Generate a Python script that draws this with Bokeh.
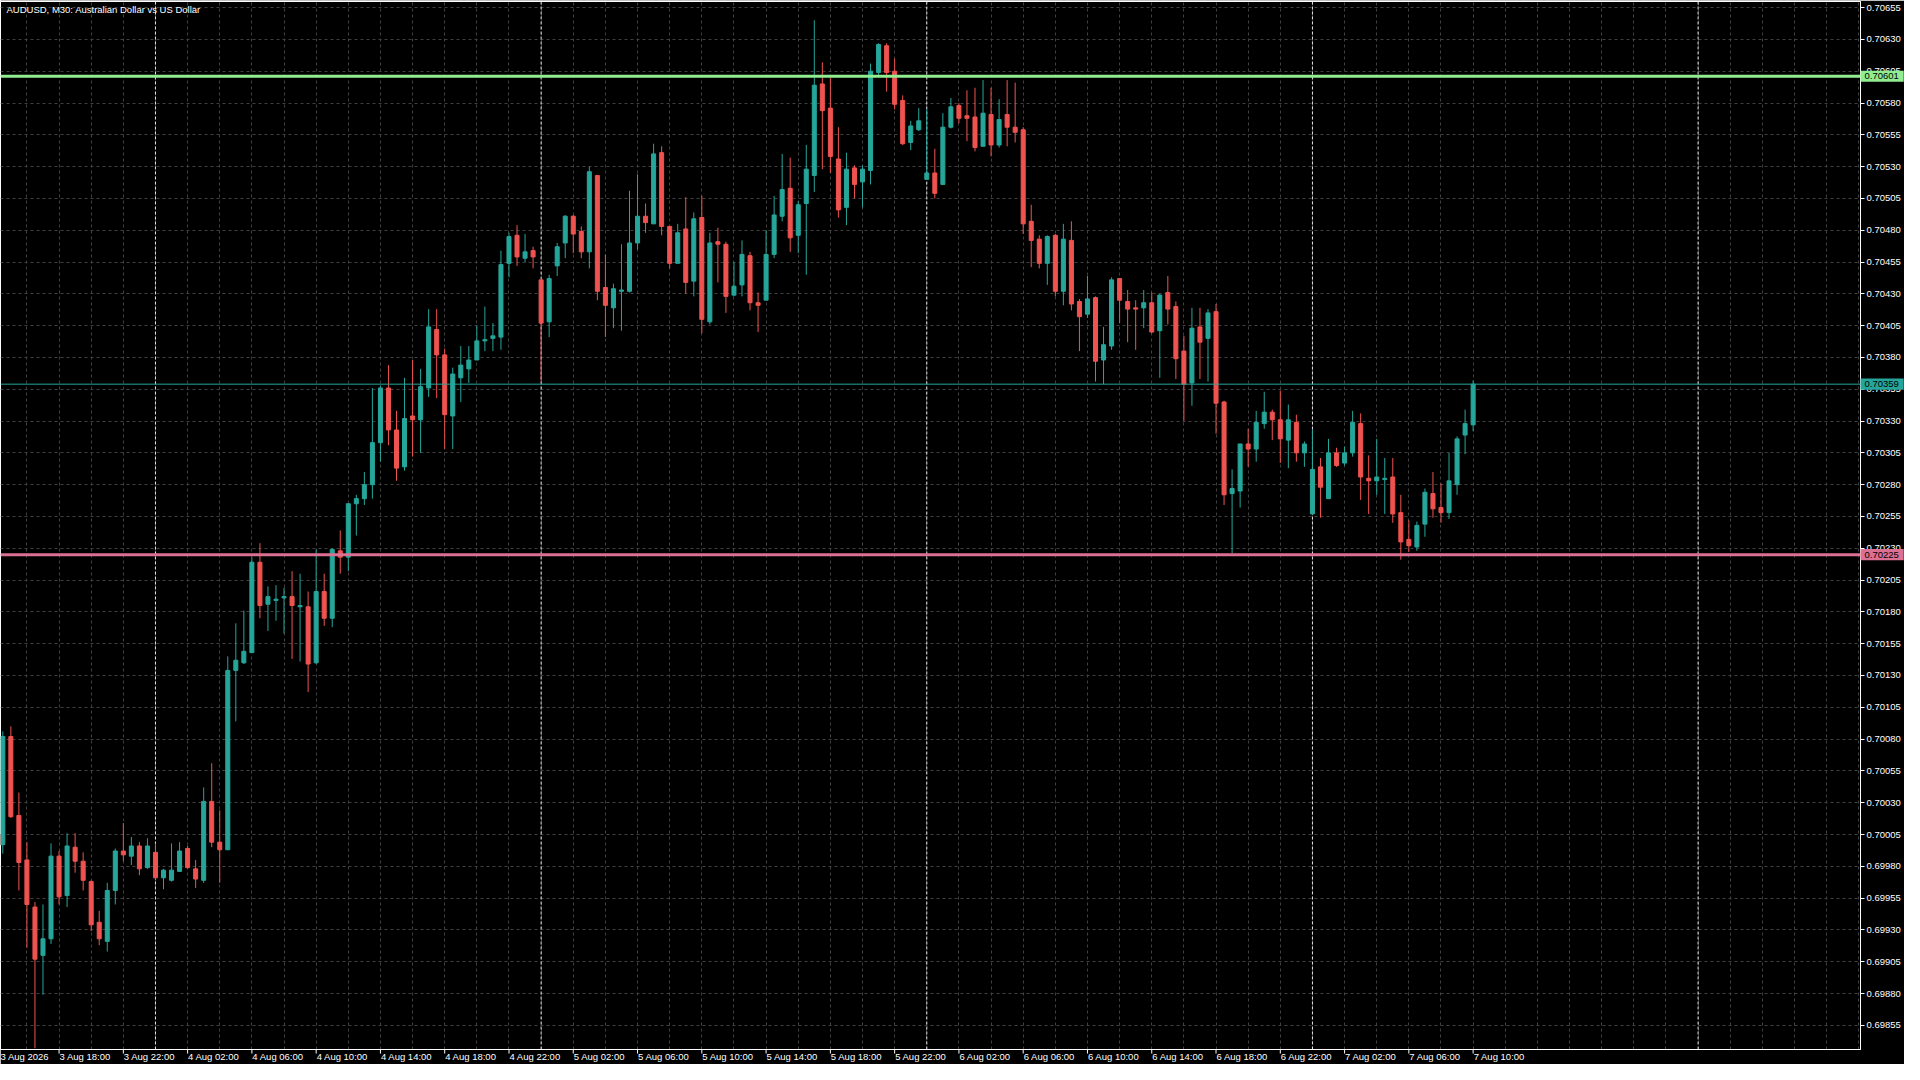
import numpy as np
from bokeh.plotting import figure
from bokeh.models import Range1d, FixedTicker, Span, Label, PrintfTickFormatter, ColumnDataSource
from bokeh.core.properties import value
from bokeh.embed import file_html
from bokeh.resources import INLINE

# ---------------- data (prices in points, 1 point = 0.00001) ----------------
POINT = 1e-5
open_pts = [70005, 69997, 70082, 70020, 69985, 69948, 69910, 69923, 69988, 69957,
            69995, 69984, 69968, 69936, 69921, 69961, 69992, 69988, 69996, 69979,
            69991, 69971, 69969, 69976, 69994, 69978, 69969, 70031, 69999, 69993,
            70134, 70140, 70148, 70219, 70186, 70189, 70191, 70192, 70184, 70184,
            70140, 70196, 70175, 70228, 70223, 70265, 70269, 70280, 70313, 70356,
            70323, 70294, 70334, 70331, 70356, 70402, 70382, 70334, 70364, 70371,
            70378, 70393, 70395, 70396, 70454, 70476, 70458, 70464, 70441, 70408,
            70452, 70470, 70491, 70479, 70463, 70523, 70435, 70419, 70432, 70432,
            70470, 70491, 70485, 70541, 70483, 70454, 70481, 70440, 70490, 70408,
            70471, 70469, 70429, 70437, 70460, 70423, 70425, 70461, 70491, 70513,
            70476, 70501, 70523, 70595, 70576, 70536, 70498, 70529, 70518, 70527,
            70604, 70625, 70605, 70582, 70549, 70559, 70520, 70525, 70516, 70561,
            70578, 70570, 70569, 70546, 70571, 70547, 70571, 70561, 70559, 70487,
            70473, 70454, 70476, 70432, 70472, 70424, 70414, 70427, 70378, 70389,
            70442, 70424, 70419, 70419, 70423, 70401, 70431, 70420, 70385, 70360,
            70404, 70395, 70416, 70345, 70273, 70275, 70312, 70308, 70328, 70337,
            70331, 70315, 70329, 70305, 70257, 70294, 70269, 70305, 70297, 70305,
            70328, 70285, 70283, 70284, 70286, 70258, 70237, 70231, 70249, 70273,
            70262, 70258, 70280, 70319, 70327]
high_pts = [70008, 70086, 70090, 70038, 69999, 69952, 69950, 69998, 69992, 70006,
            70006, 69991, 69969, 69945, 69967, 69994, 70014, 70003, 69999, 70002,
            69998, 69978, 69998, 69999, 69996, 69985, 70042, 70061, 70024, 70145,
            70171, 70181, 70223, 70234, 70200, 70201, 70199, 70212, 70210, 70196,
            70229, 70210, 70230, 70244, 70265, 70272, 70290, 70356, 70358, 70374,
            70338, 70364, 70378, 70371, 70418, 70418, 70387, 70372, 70389, 70389,
            70405, 70420, 70407, 70464, 70478, 70484, 70477, 70467, 70441, 70445,
            70470, 70492, 70492, 70483, 70530, 70523, 70461, 70438, 70469, 70511,
            70524, 70501, 70548, 70546, 70483, 70485, 70506, 70494, 70507, 70478,
            70482, 70471, 70455, 70472, 70463, 70431, 70480, 70507, 70540, 70537,
            70503, 70547, 70645, 70612, 70600, 70561, 70541, 70531, 70531, 70611,
            70627, 70627, 70615, 70586, 70566, 70576, 70575, 70544, 70572, 70584,
            70580, 70590, 70592, 70598, 70592, 70583, 70598, 70596, 70561, 70500,
            70476, 70476, 70477, 70485, 70487, 70426, 70444, 70428, 70404, 70443,
            70442, 70433, 70425, 70433, 70431, 70430, 70444, 70424, 70397, 70419,
            70419, 70418, 70422, 70346, 70292, 70312, 70324, 70338, 70353, 70339,
            70354, 70343, 70335, 70314, 70323, 70301, 70316, 70309, 70310, 70338,
            70336, 70303, 70316, 70301, 70301, 70272, 70252, 70251, 70277, 70290,
            70281, 70305, 70318, 70339, 70362]
low_pts = [69994, 69990, 70018, 69961, 69916, 69837, 69879, 69919, 69950, 69948,
           69975, 69961, 69929, 69918, 69913, 69950, 69984, 69981, 69973, 69978,
           69970, 69962, 69968, 69976, 69978, 69963, 69967, 69995, 69967, 69993,
           70094, 70139, 70148, 70175, 70165, 70173, 70163, 70143, 70141, 70117,
           70139, 70169, 70168, 70210, 70212, 70240, 70264, 70269, 70298, 70311,
           70283, 70291, 70302, 70305, 70349, 70348, 70308, 70308, 70345, 70360,
           70378, 70385, 70385, 70386, 70443, 70452, 70455, 70450, 70361, 70396,
           70444, 70458, 70462, 70458, 70450, 70425, 70396, 70403, 70401, 70431,
           70465, 70478, 70485, 70476, 70450, 70454, 70430, 70428, 70399, 70406,
           70439, 70415, 70428, 70428, 70417, 70400, 70425, 70458, 70487, 70463,
           70462, 70445, 70510, 70528, 70525, 70490, 70484, 70505, 70498, 70516,
           70602, 70589, 70575, 70547, 70543, 70558, 70520, 70505, 70516, 70560,
           70564, 70550, 70542, 70546, 70538, 70545, 70546, 70549, 70477, 70451,
           70450, 70437, 70428, 70421, 70417, 70385, 70411, 70361, 70359, 70386,
           70407, 70392, 70386, 70403, 70399, 70364, 70406, 70363, 70330, 70342,
           70363, 70361, 70320, 70264, 70226, 70262, 70294, 70298, 70324, 70315,
           70297, 70293, 70298, 70294, 70257, 70254, 70269, 70294, 70295, 70302,
           70268, 70257, 70272, 70257, 70250, 70221, 70227, 70228, 70239, 70254,
           70250, 70253, 70272, 70304, 70322]
close_pts = [69997, 70082, 70019, 69983, 69950, 69907, 69923, 69988, 69956, 69996,
             69984, 69969, 69934, 69923, 69961, 69992, 69989, 69996, 69978, 69996,
             69971, 69977, 69977, 69992, 69979, 69970, 70031, 69999, 69993, 70134,
             70142, 70149, 70219, 70185, 70192, 70190, 70192, 70185, 70185, 70139,
             70196, 70175, 70229, 70223, 70265, 70269, 70280, 70313, 70356, 70323,
             70293, 70332, 70331, 70357, 70404, 70382, 70335, 70367, 70374, 70378,
             70393, 70394, 70397, 70453, 70475, 70459, 70463, 70459, 70407, 70442,
             70467, 70491, 70477, 70463, 70526, 70432, 70421, 70434, 70433, 70470,
             70491, 70486, 70540, 70483, 70454, 70478, 70439, 70489, 70410, 70470,
             70469, 70428, 70436, 70461, 70423, 70421, 70461, 70492, 70512, 70474,
             70500, 70528, 70594, 70574, 70538, 70496, 70528, 70516, 70528, 70605,
             70626, 70604, 70579, 70548, 70562, 70566, 70525, 70509, 70561, 70577,
             70568, 70568, 70545, 70572, 70547, 70567, 70561, 70557, 70485, 70472,
             70454, 70475, 70432, 70473, 70422, 70412, 70426, 70377, 70390, 70441,
             70425, 70418, 70418, 70423, 70400, 70429, 70418, 70379, 70359, 70403,
             70392, 70415, 70344, 70272, 70277, 70312, 70308, 70329, 70337, 70331,
             70316, 70331, 70305, 70312, 70292, 70278, 70305, 70295, 70305, 70329,
             70286, 70283, 70286, 70285, 70257, 70235, 70232, 70248, 70274, 70261,
             70258, 70283, 70316, 70328, 70359]

# time axis labels: one every 8 bars (M30 bars, first bar = 3 Aug 14:00)
time_labels = ["3 Aug 2026", "3 Aug 18:00", "3 Aug 22:00", "4 Aug 02:00", "4 Aug 06:00",
               "4 Aug 10:00", "4 Aug 14:00", "4 Aug 18:00", "4 Aug 22:00", "5 Aug 02:00",
               "5 Aug 06:00", "5 Aug 10:00", "5 Aug 14:00", "5 Aug 18:00", "5 Aug 22:00",
               "6 Aug 02:00", "6 Aug 06:00", "6 Aug 10:00", "6 Aug 14:00", "6 Aug 18:00",
               "6 Aug 22:00", "7 Aug 02:00", "7 Aug 06:00", "7 Aug 10:00"]
LABEL_EVERY = 8
GRID_EVERY = 4
day_separator_bars = [20, 68, 116, 164, 212]   # midnight bars

price_tick_pts = list(range(69855, 70656, 25))
level_resistance = 0.70601
level_bid = 0.70359
level_support = 0.70225

title_text = "AUDUSD, M30:  Australian Dollar vs US Dollar"

# ---------------- styling ----------------
UP = "#26A69A"
DOWN = "#EF5350"
GREEN = "#90EE90"
PINK = "#DB7093"
GRID = "#404040"
FONT = "Liberation Sans"
FS = "9.5px"

W, H = 1904, 1064
RB, BB, LB, TB = 44, 15, 0, 1
FRAME_W, FRAME_H = 1852, 1039              # frame size that the axes leave
BAR_PX = 8.0
x_start = 0.7125
x_end = x_start + FRAME_W / BAR_PX         # visible bar window
y_start, y_end = 0.69836, 0.706598         # visible price window
PX_X = 1.0 / BAR_PX                        # bars per pixel
PX_Y = (y_end - y_start) / FRAME_H         # price per pixel
LABEL_SHIFT = 3.25                         # bars: left-align time labels to their tick

o = np.array(open_pts) * POINT
h = np.array(high_pts) * POINT
l = np.array(low_pts) * POINT
c = np.array(close_pts) * POINT
x = np.arange(len(o))
colors = [UP if cc >= oo else DOWN for oo, cc in zip(o, c)]

src = ColumnDataSource(dict(x=x, high=h, low=l, top=np.maximum(o, c),
                            bottom=np.minimum(o, c), color=colors))

p = figure(width=W, height=H,
           x_range=Range1d(x_start, x_end), y_range=Range1d(y_start, y_end),
           output_backend="svg", toolbar_location=None, y_axis_location="right",
           background_fill_color="black", border_fill_color="black",
           outline_line_color="white", outline_line_width=1,
           min_border_left=LB, min_border_top=TB, min_border_right=RB, min_border_bottom=BB)

# price axis
p.yaxis.ticker = FixedTicker(ticks=[t * POINT for t in price_tick_pts])
p.yaxis.formatter = PrintfTickFormatter(format="%.5f")
p.yaxis.major_tick_out = 4
p.yaxis.major_tick_in = 0
p.yaxis.major_tick_line_color = "white"
p.yaxis.major_label_standoff = 2
p.yaxis.axis_label_standoff = 0

# time axis: labels placed just right of their tick
tick_bars = [i * LABEL_EVERY for i in range(len(time_labels))]
lab_pos = [b + LABEL_SHIFT for b in tick_bars]
p.xaxis.ticker = FixedTicker(ticks=lab_pos)
p.xaxis.major_label_overrides = {pos: t for pos, t in zip(lab_pos, time_labels)}
p.xaxis.major_tick_out = 0
p.xaxis.major_tick_in = 0
p.xaxis.major_tick_line_color = None
p.xaxis.major_label_standoff = 1
p.xaxis.axis_label_standoff = 0

for ax in (p.xaxis[0], p.yaxis[0]):
    ax.axis_line_color = "white"
    ax.minor_tick_line_color = None
    ax.major_label_text_color = "white"
    ax.major_label_text_font = FONT
    ax.major_label_text_font_size = FS

# time tick marks under the frame
p.segment(x0=tick_bars, y0=[y_start] * len(tick_bars), x1=tick_bars,
          y1=[y_start - 4 * PX_Y] * len(tick_bars), line_color="white", line_width=1,
          level="overlay")

# grid
p.xgrid.axis = None
p.xgrid.ticker = FixedTicker(ticks=list(range(0, int(x_end) + 1, GRID_EVERY)))
for g in (p.xgrid[0], p.ygrid[0]):
    g.grid_line_color = GRID
    g.grid_line_dash = "3 3"
    g.grid_line_width = 1

# day separators
for b in day_separator_bars:
    p.add_layout(Span(location=b, dimension="height", line_color="#e6e6e6",
                      line_dash="3 2", line_width=1, level="underlay"))

# candles
p.segment(x0="x", y0="low", x1="x", y1="high", line_color="color", line_width=1, source=src)
p.vbar(x="x", width=0.5, top="top", bottom="bottom", fill_color="color",
       line_color="color", line_width=1, source=src)

# horizontal levels and their price boxes on the axis
levels = [level_resistance, level_bid, level_support]
level_colors = [GREEN, UP, PINK]
level_widths = [3, 1, 3]
for lvl, col, lw in zip(levels, level_colors, level_widths):
    p.add_layout(Span(location=lvl, dimension="width", line_color=col, line_width=lw))

p.rect(x=[x_end + 21.5 * PX_X] * 3, y=levels, width=43 * PX_X, height=11 * PX_Y,
       fill_color=level_colors, line_color=None, level="overlay")
p.text(x=[x_end + 4 * PX_X] * 3, y=levels, text=[f"{v:.5f}" for v in levels],
       text_color="black", text_font=value(FONT), text_font_size=value(FS),
       text_align="left", text_baseline="middle", level="overlay")

# chart title
p.add_layout(Label(x=x_start, y=y_end, x_offset=6, y_offset=-8, text=title_text,
                   text_color="white", text_font=FONT, text_font_size=FS,
                   text_align="left", text_baseline="middle"))

open("out.html", "w").write(file_html(p, INLINE))
